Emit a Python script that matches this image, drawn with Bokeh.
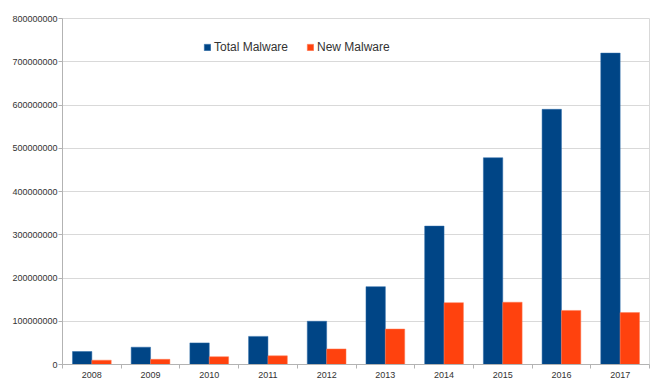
import numpy as np
from bokeh.plotting import figure
from bokeh.models import (ColumnDataSource, Range1d, FixedTicker, BasicTickFormatter,
                          Legend, LegendItem)
from bokeh.transform import dodge
from bokeh.embed import file_html
from bokeh.resources import INLINE

years = ["2008", "2009", "2010", "2011", "2012", "2013", "2014", "2015", "2016", "2017"]
total_malware = [30e6, 40e6, 50e6, 65e6, 100e6, 180e6, 320e6, 478e6, 590e6, 720e6]
new_malware = [10e6, 12e6, 18e6, 20e6, 36e6, 82e6, 143e6, 144e6, 125e6, 120e6]
y_ticks = [0, 100e6, 200e6, 300e6, 400e6, 500e6, 600e6, 700e6, 800e6]

idx = list(range(len(years)))
src = ColumnDataSource(dict(x=idx, total=total_malware, new=new_malware))

p = figure(width=657, height=380, output_backend="svg", toolbar_location=None,
           x_range=Range1d(-0.5, len(years) - 0.5), y_range=Range1d(0, 800e6),
           min_border_left=62, min_border_right=8, min_border_top=18, min_border_bottom=14)

bw = 0.33
r1 = p.vbar(x=dodge("x", -bw / 2, range=p.x_range), top="total", width=bw, source=src,
            fill_color="#004586", line_color="#2a6aa8", line_width=0.5)
r2 = p.vbar(x=dodge("x", bw / 2, range=p.x_range), top="new", width=bw, source=src,
            fill_color="#ff420e", line_color="#ff7a55", line_width=0.5)

# axes
p.xaxis.ticker = FixedTicker(ticks=idx, minor_ticks=[i - 0.5 for i in range(len(years) + 1)])
p.xaxis.major_label_overrides = {i: y for i, y in enumerate(years)}
p.xaxis.major_tick_line_color = None
p.xaxis.minor_tick_out = 4
p.xaxis.minor_tick_in = 0
p.xaxis.minor_tick_line_color = "#b3b3b3"
p.xaxis.axis_line_color = "#b3b3b3"
p.xaxis.major_label_text_font_size = "9px"
p.xaxis.major_label_text_color = "#333333"
p.xaxis.major_label_text_font = "Liberation Sans"
p.xaxis.major_label_standoff = 1

p.yaxis.ticker = FixedTicker(ticks=y_ticks)
p.yaxis.formatter = BasicTickFormatter(use_scientific=False)
p.yaxis.major_tick_out = 4
p.yaxis.major_tick_in = 0
p.yaxis.minor_tick_line_color = None
p.yaxis.major_tick_line_color = "#b3b3b3"
p.yaxis.axis_line_color = "#b3b3b3"
p.yaxis.major_label_text_font_size = "9px"
p.yaxis.major_label_text_color = "#333333"
p.yaxis.major_label_text_font = "Liberation Sans"
p.yaxis.major_label_standoff = 1

p.xgrid.grid_line_color = None
p.ygrid.ticker = FixedTicker(ticks=y_ticks)
p.ygrid.grid_line_color = "#d9d9d9"
p.outline_line_color = "#d9d9d9"

legend = Legend(items=[LegendItem(label="Total Malware", renderers=[r1]),
                       LegendItem(label="New Malware", renderers=[r2])],
                orientation="horizontal", location=(141, 310),
                padding=0, margin=0, spacing=18, glyph_width=8, glyph_height=8,
                label_standoff=3, label_text_font_size="12px", label_text_color="#333333",
                label_text_font="Liberation Sans", border_line_color=None,
                background_fill_alpha=0)
p.add_layout(legend, "center")

open("out.html", "w").write(file_html(p, INLINE))
